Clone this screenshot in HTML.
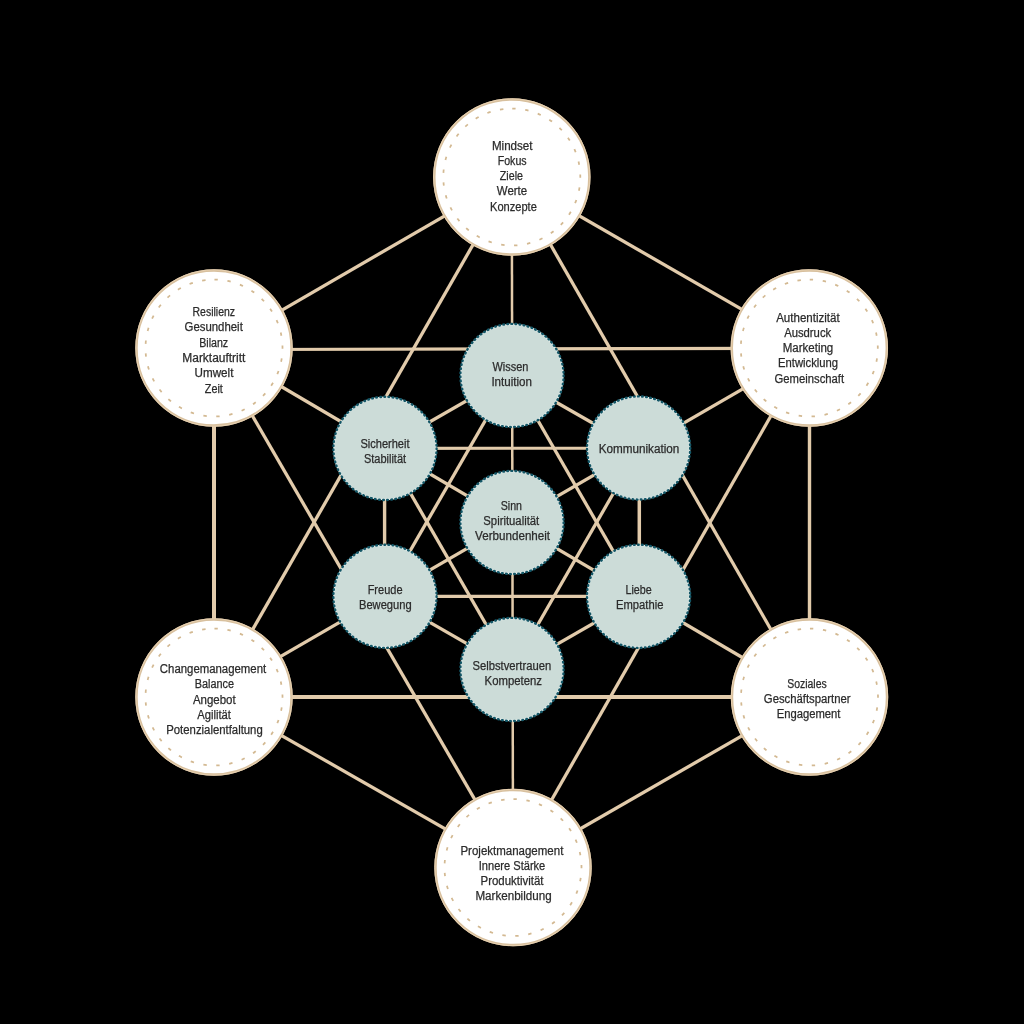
<!DOCTYPE html><html><head><meta charset="utf-8"><style>html,body{margin:0;padding:0;background:#000;width:1024px;height:1024px;overflow:hidden}svg{display:block;will-change:transform}text{font-family:"Liberation Sans",sans-serif;font-size:12px;fill:#2b2b2b;stroke:#2b2b2b;stroke-width:0.25px}</style></head><body>
<svg width="1024" height="1024" viewBox="0 0 1024 1024">
<rect width="1024" height="1024" fill="#000"/>
<g stroke="#e2cbab" fill="none">
<line x1="511.8" y1="177" x2="214" y2="349.5" stroke-width="3.3"/>
<line x1="214" y1="349.5" x2="214" y2="697" stroke-width="4.0"/>
<line x1="214" y1="697" x2="513" y2="867.5" stroke-width="3.3"/>
<line x1="513" y1="867.5" x2="809.5" y2="697" stroke-width="3.3"/>
<line x1="809.5" y1="697" x2="809.5" y2="348.3" stroke-width="3.4"/>
<line x1="809.5" y1="348.3" x2="511.8" y2="177" stroke-width="3.3"/>
<line x1="511.8" y1="177" x2="214" y2="697" stroke-width="3.3"/>
<line x1="214" y1="697" x2="809.5" y2="697" stroke-width="4.2"/>
<line x1="809.5" y1="697" x2="511.8" y2="177" stroke-width="3.3"/>
<line x1="514.2" y1="867.5" x2="214" y2="349.5" stroke-width="3.3"/>
<line x1="214" y1="349.6" x2="809.5" y2="348.3" stroke-width="3.2"/>
<line x1="809.5" y1="348.3" x2="513" y2="867.5" stroke-width="3.3"/>
<line x1="511.8" y1="177" x2="513" y2="867.5" stroke-width="2.5"/>
<line x1="214" y1="347.0" x2="809.5" y2="697.0" stroke-width="3.3"/>
<line x1="809.5" y1="350.2" x2="214" y2="695.0" stroke-width="3.3"/>
<line x1="512" y1="374.8" x2="384.6" y2="447.7" stroke-width="3.3"/>
<line x1="384.6" y1="448.4" x2="384.6" y2="596.4" stroke-width="3.4"/>
<line x1="384.6" y1="596.4" x2="512" y2="669.5" stroke-width="3.3"/>
<line x1="512" y1="670.1" x2="639.3" y2="597.0" stroke-width="3.3"/>
<line x1="639.3" y1="596.4" x2="639.3" y2="448.2" stroke-width="3.5"/>
<line x1="639.3" y1="449.7" x2="512" y2="377.0" stroke-width="3.3"/>
<line x1="511.25" y1="375.5" x2="383.85" y2="596.4" stroke-width="3.3"/>
<line x1="384.6" y1="596.4" x2="639.3" y2="596.4" stroke-width="3.1"/>
<line x1="639.3" y1="596.4" x2="512" y2="375.5" stroke-width="3.3"/>
<line x1="512" y1="669.5" x2="384.6" y2="448.4" stroke-width="3.3"/>
<line x1="384.6" y1="448.4" x2="639.3" y2="448.2" stroke-width="3.1"/>
<line x1="639.3" y1="448.2" x2="512" y2="669.5" stroke-width="3.3"/>
</g>
<circle cx="511.8" cy="177" r="77.5" fill="#fff" stroke="#d8c09e" stroke-width="2.4"/>
<circle cx="511.8" cy="177" r="78.25" fill="none" stroke="#ead4b4" stroke-width="0.9"/>
<circle cx="511.8" cy="177" r="68.5" fill="none" stroke="#d3b992" stroke-width="1.75" stroke-dasharray="3.4 9.642" transform="rotate(-89.62 511.8 177)"/>
<circle cx="214" cy="348" r="77.5" fill="#fff" stroke="#d8c09e" stroke-width="2.4"/>
<circle cx="214" cy="348" r="78.25" fill="none" stroke="#ead4b4" stroke-width="0.9"/>
<circle cx="214" cy="348" r="68.5" fill="none" stroke="#d3b992" stroke-width="1.75" stroke-dasharray="3.4 9.642" transform="rotate(-89.62 214 348)"/>
<circle cx="809.3" cy="348" r="77.5" fill="#fff" stroke="#d8c09e" stroke-width="2.4"/>
<circle cx="809.3" cy="348" r="78.25" fill="none" stroke="#ead4b4" stroke-width="0.9"/>
<circle cx="809.3" cy="348" r="68.5" fill="none" stroke="#d3b992" stroke-width="1.75" stroke-dasharray="3.4 9.642" transform="rotate(-89.62 809.3 348)"/>
<circle cx="214" cy="697" r="77.5" fill="#fff" stroke="#d8c09e" stroke-width="2.4"/>
<circle cx="214" cy="697" r="78.25" fill="none" stroke="#ead4b4" stroke-width="0.9"/>
<circle cx="214" cy="697" r="68.5" fill="none" stroke="#d3b992" stroke-width="1.75" stroke-dasharray="3.4 9.642" transform="rotate(-89.62 214 697)"/>
<circle cx="809.5" cy="697" r="77.5" fill="#fff" stroke="#d8c09e" stroke-width="2.4"/>
<circle cx="809.5" cy="697" r="78.25" fill="none" stroke="#ead4b4" stroke-width="0.9"/>
<circle cx="809.5" cy="697" r="68.5" fill="none" stroke="#d3b992" stroke-width="1.75" stroke-dasharray="3.4 9.642" transform="rotate(-89.62 809.5 697)"/>
<circle cx="513" cy="867.5" r="77.5" fill="#fff" stroke="#d8c09e" stroke-width="2.4"/>
<circle cx="513" cy="867.5" r="78.25" fill="none" stroke="#ead4b4" stroke-width="0.9"/>
<circle cx="513" cy="867.5" r="68.5" fill="none" stroke="#d3b992" stroke-width="1.75" stroke-dasharray="3.4 9.642" transform="rotate(-89.62 513 867.5)"/>
<circle cx="512" cy="375.5" r="51.1" fill="#ccdcd8" stroke="#e2ecea" stroke-width="1.6"/>
<circle cx="512" cy="375.5" r="51.6" fill="none" stroke="#135666" stroke-width="2.4" stroke-linecap="round" stroke-dasharray="0.75 3.354"/>
<circle cx="385" cy="448.4" r="51.1" fill="#ccdcd8" stroke="#e2ecea" stroke-width="1.6"/>
<circle cx="385" cy="448.4" r="51.6" fill="none" stroke="#135666" stroke-width="2.4" stroke-linecap="round" stroke-dasharray="0.75 3.354"/>
<circle cx="638.6" cy="448" r="51.1" fill="#ccdcd8" stroke="#e2ecea" stroke-width="1.6"/>
<circle cx="638.6" cy="448" r="51.6" fill="none" stroke="#135666" stroke-width="2.4" stroke-linecap="round" stroke-dasharray="0.75 3.354"/>
<circle cx="512" cy="522.5" r="51.1" fill="#ccdcd8" stroke="#e2ecea" stroke-width="1.6"/>
<circle cx="512" cy="522.5" r="51.6" fill="none" stroke="#135666" stroke-width="2.4" stroke-linecap="round" stroke-dasharray="0.75 3.354"/>
<circle cx="385" cy="596.3" r="51.1" fill="#ccdcd8" stroke="#e2ecea" stroke-width="1.6"/>
<circle cx="385" cy="596.3" r="51.6" fill="none" stroke="#135666" stroke-width="2.4" stroke-linecap="round" stroke-dasharray="0.75 3.354"/>
<circle cx="638.6" cy="596.3" r="51.1" fill="#ccdcd8" stroke="#e2ecea" stroke-width="1.6"/>
<circle cx="638.6" cy="596.3" r="51.6" fill="none" stroke="#135666" stroke-width="2.4" stroke-linecap="round" stroke-dasharray="0.75 3.354"/>
<circle cx="512" cy="669.5" r="51.1" fill="#ccdcd8" stroke="#e2ecea" stroke-width="1.6"/>
<circle cx="512" cy="669.5" r="51.6" fill="none" stroke="#135666" stroke-width="2.4" stroke-linecap="round" stroke-dasharray="0.75 3.354"/>
<text x="491.90" y="149.70" textLength="40.62" lengthAdjust="spacingAndGlyphs">Mindset</text>
<text x="497.75" y="164.92" textLength="28.88" lengthAdjust="spacingAndGlyphs">Fokus</text>
<text x="499.85" y="180.14" textLength="23.11" lengthAdjust="spacingAndGlyphs">Ziele</text>
<text x="496.85" y="195.36" textLength="30.29" lengthAdjust="spacingAndGlyphs">Werte</text>
<text x="490.00" y="210.58" textLength="46.81" lengthAdjust="spacingAndGlyphs">Konzepte</text>
<text x="192.55" y="316.10" textLength="42.49" lengthAdjust="spacingAndGlyphs">Resilienz</text>
<text x="184.55" y="331.44" textLength="58.28" lengthAdjust="spacingAndGlyphs">Gesundheit</text>
<text x="199.20" y="346.78" textLength="28.98" lengthAdjust="spacingAndGlyphs">Bilanz</text>
<text x="182.30" y="362.12" textLength="63.05" lengthAdjust="spacingAndGlyphs">Marktauftritt</text>
<text x="194.55" y="377.46" textLength="38.90" lengthAdjust="spacingAndGlyphs">Umwelt</text>
<text x="204.80" y="392.80" textLength="18.00" lengthAdjust="spacingAndGlyphs">Zeit</text>
<text x="776.15" y="321.60" textLength="63.54" lengthAdjust="spacingAndGlyphs">Authentizität</text>
<text x="784.15" y="336.88" textLength="47.03" lengthAdjust="spacingAndGlyphs">Ausdruck</text>
<text x="782.70" y="352.16" textLength="50.59" lengthAdjust="spacingAndGlyphs">Marketing</text>
<text x="778.10" y="367.44" textLength="60.03" lengthAdjust="spacingAndGlyphs">Entwicklung</text>
<text x="774.55" y="382.72" textLength="69.53" lengthAdjust="spacingAndGlyphs">Gemeinschaft</text>
<text x="159.85" y="672.90" textLength="106.28" lengthAdjust="spacingAndGlyphs">Changemanagement</text>
<text x="194.75" y="688.20" textLength="39.27" lengthAdjust="spacingAndGlyphs">Balance</text>
<text x="192.90" y="703.50" textLength="42.81" lengthAdjust="spacingAndGlyphs">Angebot</text>
<text x="197.20" y="718.80" textLength="33.82" lengthAdjust="spacingAndGlyphs">Agilität</text>
<text x="166.25" y="734.10" textLength="96.47" lengthAdjust="spacingAndGlyphs">Potenzialentfaltung</text>
<text x="787.25" y="687.80" textLength="39.46" lengthAdjust="spacingAndGlyphs">Soziales</text>
<text x="763.85" y="703.10" textLength="86.74" lengthAdjust="spacingAndGlyphs">Geschäftspartner</text>
<text x="776.70" y="718.40" textLength="63.75" lengthAdjust="spacingAndGlyphs">Engagement</text>
<text x="460.45" y="854.50" textLength="102.89" lengthAdjust="spacingAndGlyphs">Projektmanagement</text>
<text x="478.75" y="869.83" textLength="66.54" lengthAdjust="spacingAndGlyphs">Innere Stärke</text>
<text x="480.55" y="885.16" textLength="62.93" lengthAdjust="spacingAndGlyphs">Produktivität</text>
<text x="475.40" y="900.49" textLength="76.21" lengthAdjust="spacingAndGlyphs">Markenbildung</text>
<text x="492.45" y="370.60" textLength="35.94" lengthAdjust="spacingAndGlyphs">Wissen</text>
<text x="491.40" y="386.00" textLength="40.63" lengthAdjust="spacingAndGlyphs">Intuition</text>
<text x="360.40" y="447.65" textLength="49.16" lengthAdjust="spacingAndGlyphs">Sicherheit</text>
<text x="363.90" y="463.10" textLength="42.22" lengthAdjust="spacingAndGlyphs">Stabilität</text>
<text x="598.65" y="452.70" textLength="80.70" lengthAdjust="spacingAndGlyphs">Kommunikation</text>
<text x="500.77" y="509.70" textLength="21.27" lengthAdjust="spacingAndGlyphs">Sinn</text>
<text x="483.30" y="525.00" textLength="55.96" lengthAdjust="spacingAndGlyphs">Spiritualität</text>
<text x="475.10" y="540.30" textLength="75.00" lengthAdjust="spacingAndGlyphs">Verbundenheit</text>
<text x="367.65" y="593.60" textLength="34.92" lengthAdjust="spacingAndGlyphs">Freude</text>
<text x="358.95" y="609.10" textLength="52.71" lengthAdjust="spacingAndGlyphs">Bewegung</text>
<text x="625.45" y="593.60" textLength="26.26" lengthAdjust="spacingAndGlyphs">Liebe</text>
<text x="616.00" y="609.10" textLength="47.40" lengthAdjust="spacingAndGlyphs">Empathie</text>
<text x="472.50" y="669.50" textLength="78.64" lengthAdjust="spacingAndGlyphs">Selbstvertrauen</text>
<text x="484.60" y="684.70" textLength="57.40" lengthAdjust="spacingAndGlyphs">Kompetenz</text>
</svg></body></html>
